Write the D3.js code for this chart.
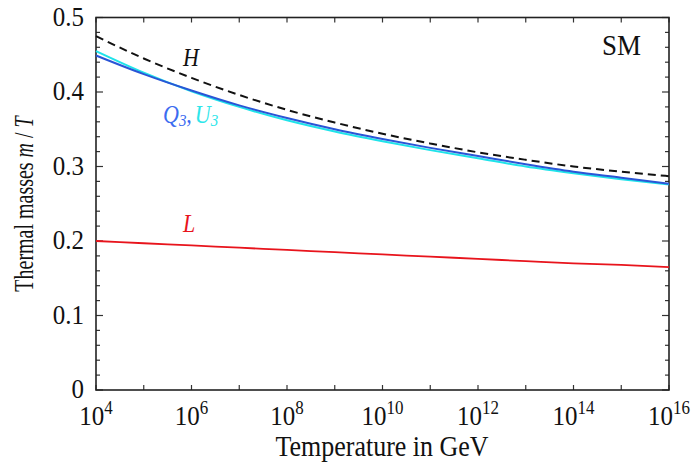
<!DOCTYPE html>
<html>
<head>
<meta charset="utf-8">
<script src="https://cdn.jsdelivr.net/npm/d3@7"></script>
<style>
  body { margin: 0; background: #fff; }
  text { font-family: "Liberation Serif", "DejaVu Serif", serif; }
</style>
</head>
<body>
<div id="chart"></div>
<script>
// log10 of temperature in GeV
const logT = [4, 5, 6, 7, 8, 9, 10, 11, 12, 13, 14, 15, 16];
const massH = [0.475, 0.445, 0.419, 0.396, 0.376, 0.359, 0.344, 0.331, 0.319, 0.309, 0.300, 0.293, 0.287];
const massQ3 = [0.449, 0.424, 0.402, 0.382, 0.365, 0.350, 0.337, 0.325, 0.314, 0.303, 0.293, 0.285, 0.277];
const massU3 = [0.455, 0.426, 0.401, 0.380, 0.362, 0.347, 0.334, 0.322, 0.311, 0.300, 0.291, 0.283, 0.276];
const massL = [0.200, 0.197, 0.194, 0.191, 0.188, 0.185, 0.182, 0.179, 0.176, 0.173, 0.170, 0.168, 0.165];
const xLabelExps = [4, 6, 8, 10, 12, 14, 16];
const yTicks = [0, 0.1, 0.2, 0.3, 0.4, 0.5];

const config = { width: 695, height: 470, left: 96, right: 26, top: 17.5, bottom: 80 };
const w = config.width - config.left - config.right;
const h = config.height - config.top - config.bottom;
const stretch = 1.12; // the text in the figure is a bit taller than wide

const svg = d3.select("#chart").append("svg")
  .attr("width", config.width)
  .attr("height", config.height);

const g = svg.append("g")
  .attr("transform", `translate(${config.left},${config.top})`);

const xScale = d3.scaleLog().domain([1e4, 1e16]).range([0, w]);
const yScale = d3.scaleLinear().domain([0, 0.5]).range([h, 0]);

const decades = d3.range(4, 17).map(e => Math.pow(10, e));
const yMinor = d3.range(0, 0.5001, 0.02);

// ticks, all pointing inward
const tickCol = "#333";
g.selectAll(".xb").data(decades).join("line")
  .attr("x1", d => xScale(d)).attr("x2", d => xScale(d))
  .attr("y1", h).attr("y2", h - 5)
  .attr("stroke", tickCol).attr("stroke-width", 1.2);
g.selectAll(".xt").data(decades).join("line")
  .attr("x1", d => xScale(d)).attr("x2", d => xScale(d))
  .attr("y1", 0).attr("y2", 5)
  .attr("stroke", tickCol).attr("stroke-width", 1.2);

const isMajor = d => Math.abs(d * 10 - Math.round(d * 10)) < 1e-6;
g.selectAll(".yl").data(yMinor).join("line")
  .attr("x1", 0).attr("x2", d => isMajor(d) ? 7 : 4)
  .attr("y1", d => yScale(d)).attr("y2", d => yScale(d))
  .attr("stroke", tickCol).attr("stroke-width", 1.2);
g.selectAll(".yr").data(yMinor).join("line")
  .attr("x1", w).attr("x2", d => isMajor(d) ? w - 7 : w - 4)
  .attr("y1", d => yScale(d)).attr("y2", d => yScale(d))
  .attr("stroke", tickCol).attr("stroke-width", 1.2);

// frame
g.append("rect")
  .attr("width", w).attr("height", h)
  .attr("fill", "none")
  .attr("stroke", "#222").attr("stroke-width", 1.6);

// tick labels
g.selectAll(".ylab").data(yTicks).join("text")
  .attr("transform", d => `translate(-12,${yScale(d) + 8}) scale(1,${stretch})`)
  .attr("text-anchor", "end")
  .attr("font-size", 25)
  .attr("fill", "#111")
  .text(d => d === 0 ? "0" : d.toFixed(1));

const xl = g.selectAll(".xlab").data(xLabelExps).join("text")
  .attr("transform", e => `translate(${xScale(Math.pow(10, e))},${h + 35}) scale(1,${stretch})`)
  .attr("text-anchor", "middle")
  .attr("font-size", 25)
  .attr("fill", "#111");
xl.append("tspan").text("10");
xl.append("tspan").attr("dy", -10).attr("font-size", 17).text(e => e);

// curves
const line = d3.line()
  .x((d, i) => xScale(Math.pow(10, logT[i])))
  .y(d => yScale(d))
  .curve(d3.curveMonotoneX);

g.append("path").datum(massL).attr("d", line)
  .attr("fill", "none").attr("stroke", "#e8141c").attr("stroke-width", 1.8);
g.append("path").datum(massU3).attr("d", line)
  .attr("fill", "none").attr("stroke", "#1fe3ea").attr("stroke-width", 2);
g.append("path").datum(massQ3).attr("d", line)
  .attr("fill", "none").attr("stroke", "#2a55d6").attr("stroke-width", 2);
g.append("path").datum(massH).attr("d", line)
  .attr("fill", "none").attr("stroke", "#111").attr("stroke-width", 2)
  .attr("stroke-dasharray", "8,5");

// curve labels
const place = (x, y) => `translate(${x},${y}) scale(1,${stretch})`;
svg.append("text").attr("transform", place(183, 66))
  .attr("font-size", 22).attr("font-style", "italic").attr("fill", "#111").text("H");
svg.append("text").attr("transform", place(183, 232))
  .attr("font-size", 22).attr("font-style", "italic").attr("fill", "#e8141c").text("L");
const qu = svg.append("text").attr("transform", place(163, 123))
  .attr("font-size", 22).attr("font-style", "italic");
qu.append("tspan").attr("fill", "#3b6cf0").text("Q");
qu.append("tspan").attr("fill", "#3b6cf0").attr("font-size", 15).attr("dy", 3).text("3");
qu.append("tspan").attr("fill", "#3b6cf0").attr("dy", -3).attr("font-style", "normal").text(",");
qu.append("tspan").attr("fill", "#2ee6ea").attr("dx", 3).text("U");
qu.append("tspan").attr("fill", "#2ee6ea").attr("font-size", 15).attr("dy", 3).text("3");

svg.append("text").attr("transform", place(602, 55))
  .attr("font-size", 27).attr("fill", "#111").text("SM");

// axis titles
svg.append("text")
  .attr("transform", place(382, 456))
  .attr("text-anchor", "middle")
  .attr("font-size", 26).attr("fill", "#111")
  .text("Temperature in GeV");

const yt = svg.append("text")
  .attr("transform", "translate(33,204) rotate(-90) scale(0.74,1)")
  .attr("text-anchor", "middle")
  .attr("font-size", 27).attr("fill", "#111");
yt.append("tspan").text("Thermal masses ");
yt.append("tspan").attr("font-style", "italic").text("m");
yt.append("tspan").text(" / ");
yt.append("tspan").attr("font-style", "italic").text("T");
</script>
</body>
</html>
